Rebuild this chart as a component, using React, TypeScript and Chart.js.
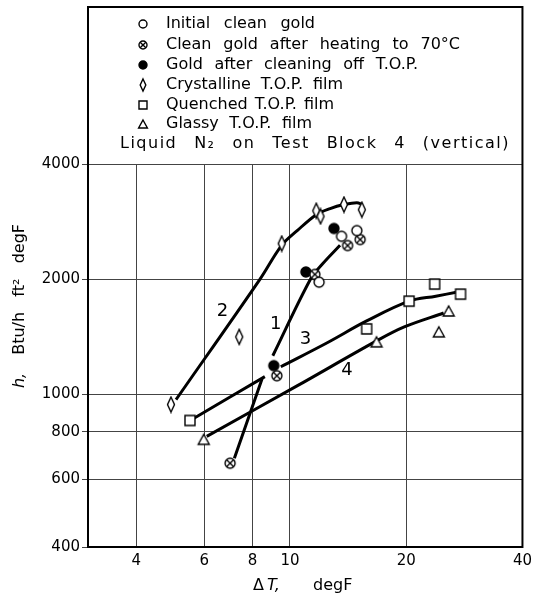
import React, { useEffect, useRef } from 'react';
import { Chart, registerables } from 'chart.js';

Chart.register(...registerables);

// ---- Axis ticks ----
const xTicks = [4, 6, 8, 10, 20, 40];
const yTicks = [400, 600, 800, 1000, 2000, 4000];

// ---- Legend text ----
const legendLabels = [
  'Initial clean gold',
  'Clean gold after heating to 70°C',
  'Gold after cleaning off T.O.P.',
  'Crystalline T.O.P. film',
  'Quenched T.O.P. film',
  'Glassy T.O.P. film',
];
const legendNote = 'Liquid N₂ on Test Block 4 (vertical)';

// ---- Marker data (ΔT degF, h Btu/h ft² degF) ----
const initialCleanX = [11.9, 13.6, 14.9];
const initialCleanY = [1966, 2590, 2680];

const heatedX = [7.0, 9.25, 11.6, 14.1, 15.2];
const heatedY = [662, 1120, 2060, 2450, 2540];

const cleanedX = [9.08, 11.0, 13.0];
const cleanedY = [1190, 2090, 2715];

const crystallineX = [4.92, 7.39, 9.52, 11.7, 12.0, 13.8, 15.35];
const crystallineY = [942, 1415, 2480, 3020, 2920, 3135, 3040];

const quenchedX = [5.51, 15.8, 20.35, 23.7, 27.65];
const quenchedY = [856, 1484, 1754, 1943, 1829];

const glassyX = [5.98, 16.76, 24.3, 25.76];
const glassyY = [764, 1373, 1458, 1653];

// ---- Fitted curves (null = gap) ----
const curve1X = [7.18, 8.47, 8.8, 9.03, 11.3, 12.12, 13.48];
const curve1Y = [682, 1100, null, 1263, 2000, 2188, 2453];

const curve2X = [5.07, 8.36, 9.52, 10.46, 11.7, 12.71, 13.8, 14.9, 15.4];
const curve2Y = [970, 2000, 2453, 2683, 2950, 3060, 3134, 3171, 3134];

const curve3X = [5.63, 8.61, 9.0, 9.47, 12.49, 15.8, 20.35, 23.86, 27.17];
const curve3Y = [866, 1114, null, 1182, 1366, 1557, 1754, 1807, 1852];

const curve4X = [6.09, 10.46, 16.76, 19.77, 25.0];
const curve4Y = [778, 1055, 1381, 1502, 1633];

// ---- Curve labels (data coordinates) ----
const curveLabels = ['1', '2', '3', '4'];
const curveLabelX = [9.19, 6.69, 10.97, 14.05];
const curveLabelY = [1529, 1652, 1398, 1154];

const FONT = '"DejaVu Sans", sans-serif';

type Kind = 'open' | 'crossed' | 'filled' | 'diamond' | 'square' | 'triangle';

function drawMarker(ctx: CanvasRenderingContext2D, kind: Kind, cx: number, cy: number, s: number) {
  ctx.save();
  ctx.strokeStyle = '#000';
  ctx.fillStyle = '#fff';
  ctx.lineWidth = 1.4;
  ctx.beginPath();
  if (kind === 'open' || kind === 'crossed' || kind === 'filled') {
    const r = 5 * s;
    ctx.arc(cx, cy, r, 0, Math.PI * 2);
    ctx.fillStyle = kind === 'filled' ? '#000' : '#fff';
    ctx.fill();
    ctx.stroke();
    if (kind === 'crossed') {
      const d = r * 0.7;
      ctx.beginPath();
      ctx.moveTo(cx - d, cy - d);
      ctx.lineTo(cx + d, cy + d);
      ctx.moveTo(cx + d, cy - d);
      ctx.lineTo(cx - d, cy + d);
      ctx.stroke();
    }
  } else if (kind === 'diamond') {
    const w = 3.5 * s, h = 7.5 * s;
    ctx.moveTo(cx, cy - h);
    ctx.lineTo(cx + w, cy);
    ctx.lineTo(cx, cy + h);
    ctx.lineTo(cx - w, cy);
    ctx.closePath();
    ctx.fill();
    ctx.stroke();
  } else if (kind === 'square') {
    const a = 5 * s;
    ctx.rect(cx - a, cy - a, 2 * a, 2 * a);
    ctx.fill();
    ctx.stroke();
  } else {
    const w = 5.5 * s, h = 5 * s;
    ctx.moveTo(cx, cy - h);
    ctx.lineTo(cx + w, cy + h);
    ctx.lineTo(cx - w, cy + h);
    ctx.closePath();
    ctx.fill();
    ctx.stroke();
  }
  ctx.restore();
}

function markerCanvas(kind: Kind, s: number): HTMLCanvasElement {
  const c = document.createElement('canvas');
  const size = Math.ceil(18 * s);
  c.width = size;
  c.height = size;
  const ctx = c.getContext('2d')!;
  drawMarker(ctx, kind, size / 2, size / 2, s);
  return c;
}

// draws words spread evenly between x0 and x1
function spreadText(ctx: CanvasRenderingContext2D, text: string, x0: number, x1: number, y: number) {
  const words = text.split(' ');
  const widths = words.map((w) => ctx.measureText(w).width);
  const sum = widths.reduce((a, b) => a + b, 0);
  const gap = words.length > 1 ? (x1 - x0 - sum) / (words.length - 1) : 0;
  let x = x0;
  words.forEach((w, i) => {
    ctx.fillText(w, x, y);
    x += widths[i] + gap;
  });
}

const legendKinds: Kind[] = ['open', 'crossed', 'filled', 'diamond', 'square', 'triangle'];

const pts = (xs: number[], ys: (number | null)[]) => xs.map((x, i) => ({ x, y: ys[i] }));

const decorPlugin = {
  id: 'decor',
  afterDraw(chart: any) {
    const ctx: CanvasRenderingContext2D = chart.ctx;
    const area = chart.chartArea;
    const xs = chart.scales.x;
    const ys = chart.scales.y;
    ctx.save();
    // outer frame including legend box
    ctx.strokeStyle = '#000';
    ctx.lineWidth = 2;
    ctx.strokeRect(area.left, 7, area.right - area.left, area.bottom - 7);

    // legend
    const rowY = [24, 45, 65, 85, 105, 124];
    const rowEnd = [315, 460, 418, 343, 334, 312];
    ctx.fillStyle = '#000';
    ctx.font = `16px ${FONT}`;
    ctx.textBaseline = 'middle';
    ctx.textAlign = 'left';
    legendLabels.forEach((t, i) => {
      drawMarker(ctx, legendKinds[i], 143, rowY[i], 0.8);
      ctx.fillStyle = '#000';
      spreadText(ctx, t, 166, rowEnd[i], rowY[i]);
    });
    (ctx as any).letterSpacing = '1.5px';
    spreadText(ctx, legendNote, 120, 510, 144);
    (ctx as any).letterSpacing = '0px';

    // curve labels
    ctx.font = `18px ${FONT}`;
    ctx.textAlign = 'center';
    curveLabels.forEach((t, i) => {
      ctx.fillText(t, xs.getPixelForValue(curveLabelX[i]), ys.getPixelForValue(curveLabelY[i]));
    });

    // x axis title
    ctx.font = `16px ${FONT}`;
    ctx.textAlign = 'left';
    let x = 253;
    const yT = 586;
    ctx.fillText('Δ', x, yT);
    x += ctx.measureText('Δ').width + 3;
    ctx.font = `italic 16px ${FONT}`;
    ctx.fillText('T,', x, yT);
    ctx.font = `16px ${FONT}`;
    ctx.fillText('degF', 313, yT);

    // y axis title
    ctx.translate(20, 306);
    ctx.rotate(-Math.PI / 2);
    const rest = 'Btu/h   ft²   degF';
    ctx.font = `italic 16px ${FONT}`;
    const w1 = ctx.measureText('h,').width;
    ctx.font = `16px ${FONT}`;
    const w2 = ctx.measureText(rest).width;
    const total = w1 + 18 + w2;
    let px = -total / 2;
    ctx.font = `italic 16px ${FONT}`;
    ctx.fillText('h,', px, 0);
    px += w1 + 18;
    ctx.font = `16px ${FONT}`;
    ctx.fillText(rest, px, 0);
    ctx.restore();
  },
};

export default function App() {
  const ref = useRef<HTMLCanvasElement | null>(null);
  useEffect(() => {
    if (!ref.current) return;
    const lineDs = (xs: number[], ys: (number | null)[]) => ({
      type: 'line' as const,
      data: pts(xs, ys),
      borderColor: '#000',
      borderWidth: 3,
      pointRadius: 0,
      tension: 0.35,
      spanGaps: false,
      fill: false,
    });
    const markDs = (xs: number[], ys: number[], kind: Kind) => ({
      type: 'scatter' as const,
      data: pts(xs, ys),
      pointStyle: markerCanvas(kind, 1),
      pointRadius: 6,
      showLine: false,
    });
    const chart = new Chart(ref.current, {
      type: 'scatter',
      data: {
        datasets: [
          markDs(initialCleanX, initialCleanY, 'open'),
          markDs(heatedX, heatedY, 'crossed'),
          markDs(cleanedX, cleanedY, 'filled'),
          markDs(crystallineX, crystallineY, 'diamond'),
          markDs(quenchedX, quenchedY, 'square'),
          markDs(glassyX, glassyY, 'triangle'),
          lineDs(curve1X, curve1Y),
          lineDs(curve2X, curve2Y),
          lineDs(curve3X, curve3Y),
          lineDs(curve4X, curve4Y),
        ] as any,
      },
      options: {
        animation: false,
        responsive: false,
        maintainAspectRatio: false,
        layout: { padding: { top: 164, right: 10, left: 0, bottom: 0 } },
        plugins: { legend: { display: false }, tooltip: { enabled: false }, title: { display: false } },
        scales: {
          x: {
            type: 'logarithmic',
            min: 3,
            max: 40,
            afterBuildTicks: (s: any) => {
              s.ticks = xTicks.map((v) => ({ value: v }));
            },
            afterFit: (s: any) => {
              s.height = 50;
            },
            ticks: {
              autoSkip: false,
              maxRotation: 0,
              padding: 5,
              color: '#000',
              font: { family: FONT, size: 15 },
              callback: (v: any) => String(v),
            },
            grid: { color: '#444', lineWidth: 1, drawTicks: false },
            border: { color: '#000', width: 2 },
          },
          y: {
            type: 'logarithmic',
            min: 400,
            max: 4000,
            afterBuildTicks: (s: any) => {
              s.ticks = yTicks.map((v) => ({ value: v }));
            },
            afterFit: (s: any) => {
              s.width = 88;
            },
            ticks: {
              autoSkip: false,
              padding: 2,
              color: '#000',
              font: { family: FONT, size: 15 },
              callback: (v: any) => String(v),
            },
            grid: { color: '#444', lineWidth: 1, tickLength: 6 },
            border: { color: '#000', width: 2 },
          },
        },
      } as any,
      plugins: [decorPlugin],
    });
    return () => chart.destroy();
  }, []);
  return (
    <div style={{ position: 'absolute', left: 0, top: 0, width: 537, height: 597 }}>
      <canvas ref={ref} width={537} height={597} style={{ width: 537, height: 597, display: 'block' }} />
    </div>
  );
}
